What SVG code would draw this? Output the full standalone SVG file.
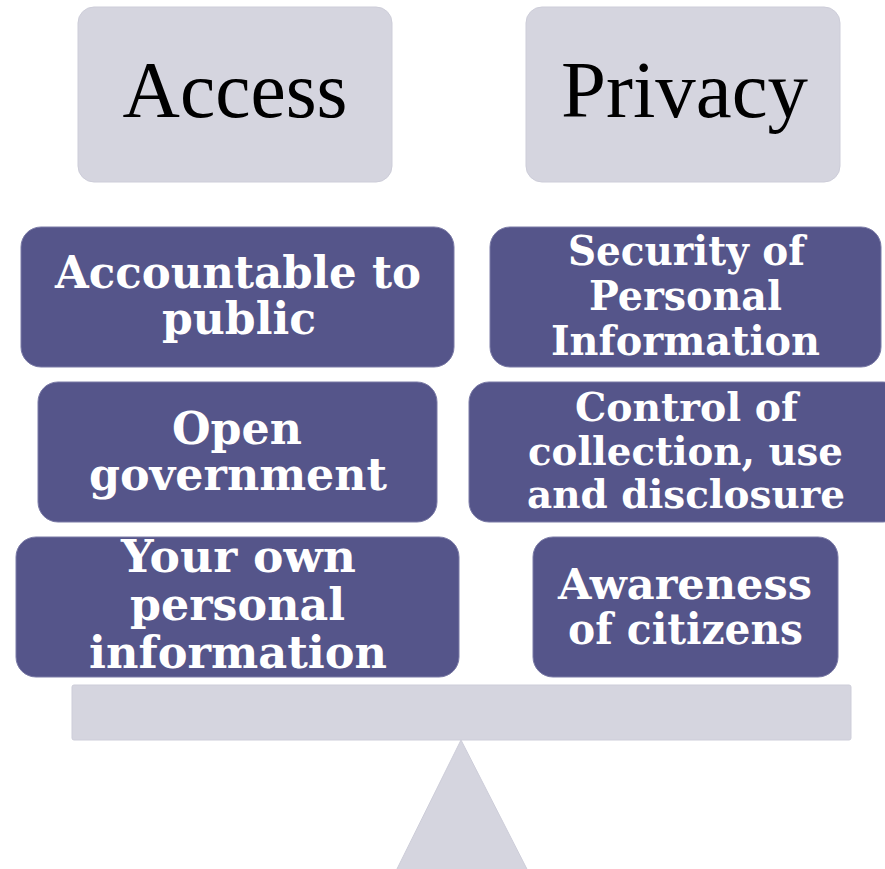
<svg xmlns="http://www.w3.org/2000/svg" width="885" height="869" viewBox="0 0 885 869">
<style>
.light{fill:#d5d5df;stroke:#cdcdd9;stroke-width:1}
.dark{fill:#55558a;stroke:#7a7aa6;stroke-width:1}
.title{font-family:"Liberation Serif","Times New Roman",serif;font-size:80px;fill:#000;text-anchor:middle}
.lbl{font-family:"DejaVu Serif","Liberation Serif",serif;font-weight:bold;fill:#ffffff;text-anchor:middle}
</style>
<rect width="885" height="869" fill="#ffffff"/>
<g id="access">
<rect class="light" x="78" y="7" width="314" height="175" rx="16"/>
<text class="title" x="235" y="117" textLength="225" lengthAdjust="spacingAndGlyphs">Access</text>
</g>
<g id="privacy">
<rect class="light" x="526" y="7" width="314" height="175" rx="16"/>
<text class="title" x="684.5" y="117" textLength="247" lengthAdjust="spacingAndGlyphs">Privacy</text>
</g>
<g id="accountable">
<rect class="dark" x="21" y="227" width="433" height="140" rx="20"/>
<text class="lbl" font-size="44" x="238" y="288" textLength="366" lengthAdjust="spacingAndGlyphs">Accountable to</text>
<text class="lbl" font-size="44" x="239" y="334" textLength="154" lengthAdjust="spacingAndGlyphs">public</text>
</g>
<g id="open-government">
<rect class="dark" x="38" y="382" width="399" height="140" rx="20"/>
<text class="lbl" font-size="44" x="237" y="444" textLength="130" lengthAdjust="spacingAndGlyphs">Open</text>
<text class="lbl" font-size="44" x="238" y="490" textLength="298" lengthAdjust="spacingAndGlyphs">government</text>
</g>
<g id="own-info">
<rect class="dark" x="16" y="537" width="443" height="140" rx="20"/>
<text class="lbl" font-size="44" x="238.5" y="572" textLength="235" lengthAdjust="spacingAndGlyphs">Your own</text>
<text class="lbl" font-size="44" x="237.5" y="620" textLength="215" lengthAdjust="spacingAndGlyphs">personal</text>
<text class="lbl" font-size="44" x="238" y="668" textLength="298" lengthAdjust="spacingAndGlyphs">information</text>
</g>
<g id="security">
<rect class="dark" x="490" y="227" width="391" height="140" rx="20"/>
<text class="lbl" font-size="41" x="686.5" y="265" textLength="237" lengthAdjust="spacingAndGlyphs">Security of</text>
<text class="lbl" font-size="41" x="685.5" y="310" textLength="193" lengthAdjust="spacingAndGlyphs">Personal</text>
<text class="lbl" font-size="41" x="685.5" y="355" textLength="269" lengthAdjust="spacingAndGlyphs">Information</text>
</g>
<g id="control">
<rect class="dark" x="469" y="382" width="434" height="140" rx="20"/>
<text class="lbl" font-size="40" x="686.5" y="421" textLength="223" lengthAdjust="spacingAndGlyphs">Control of</text>
<text class="lbl" font-size="40" x="685.5" y="465" textLength="315" lengthAdjust="spacingAndGlyphs">collection, use</text>
<text class="lbl" font-size="40" x="686" y="508" textLength="318" lengthAdjust="spacingAndGlyphs">and disclosure</text>
</g>
<g id="awareness">
<rect class="dark" x="533" y="537" width="305" height="140" rx="20"/>
<text class="lbl" font-size="42" x="685" y="599" textLength="254" lengthAdjust="spacingAndGlyphs">Awareness</text>
<text class="lbl" font-size="42" x="685.5" y="644" textLength="235" lengthAdjust="spacingAndGlyphs">of citizens</text>
</g>
<g id="beam">
<rect class="light" x="72" y="685" width="779" height="55" rx="2"/>
</g>
<g id="fulcrum">
<polygon class="light" points="461,740 394,875 530,875"/>
</g>
<g id="connectors"></g>
</svg>
